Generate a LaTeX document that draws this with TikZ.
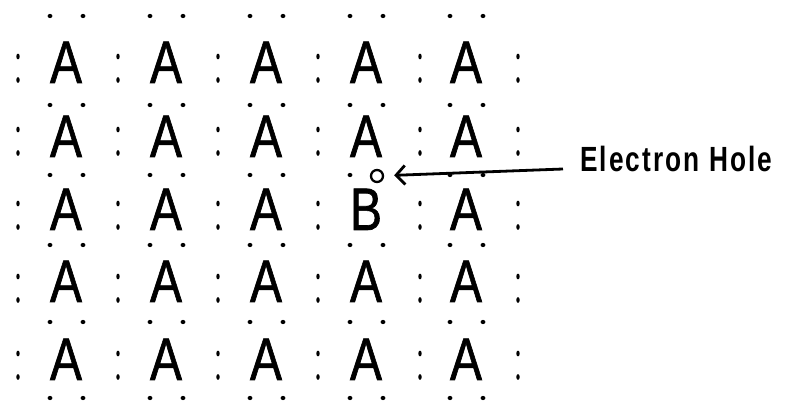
\documentclass[tikz,border=0pt]{standalone}
\usepackage{fontspec}
\setmainfont{Liberation Sans}
\newfontfamily\latfont[FakeStretch=0.8,FakeBold=1]{Liberation Sans}
\newfontfamily\lblfont[FakeStretch=0.75,LetterSpace=6]{Liberation Sans Bold}
\usetikzlibrary{arrows.meta}
\begin{document}
\begin{tikzpicture}[x=1pt,y=-1pt,
  atom/.style={font=\latfont\fontsize{60}{60}\selectfont, inner sep=0pt, anchor=base},
  lbl/.style={font=\lblfont\fontsize{35}{35}\selectfont, inner sep=0pt, anchor=base west},
  hole/.style={draw, circle, line width=2.3pt, minimum size=12pt, inner sep=0pt},
  arr/.style={line width=2.8pt, -{Straight Barb[length=9pt,width=19pt]}, shorten >=10pt}]
\useasboundingbox (0,0) rectangle (785,403);
% atoms
\foreach \cx [count=\i] in {66,166,266,366,466}
  \foreach \by [count=\j] in {83,157,230,302,380} {
    \ifnum\numexpr\i*10+\j\relax=43
      \node[atom] (L\i\j) at (\cx,\by) {B};
    \else
      \node[atom] (L\i\j) at (\cx,\by) {A};
    \fi
  }
% horizontal dot pairs
\foreach \cx [count=\i] in {66,166,266,366,466}
  \foreach \yy [count=\j] in {16,105,175,245,322,398} {
    \fill (\cx-16,\yy) ellipse [x radius=2.4, y radius=2.1];
    \ifnum\numexpr\i*10+\j\relax=43 \else
      \fill (\cx+17,\yy) ellipse [x radius=2.4, y radius=2.1];
    \fi
  }
% vertical dot pairs
\foreach \xx in {18,118,218,318,420,518}
  \foreach \tp in {40,113,187,260,337} {
    \fill (\xx,\tp+16.5) ellipse [x radius=1.7, y radius=2.9];
    \fill (\xx,\tp+40) ellipse [x radius=1.7, y radius=2.9];
  }
% electron hole
\node[hole] (hole) at (377,176) {};
\node[lbl] (label) at (580,172) {Electron Hole};
\coordinate (tail) at (563,169);
\draw[arr] (tail) -- (hole);
\end{tikzpicture}
\end{document}
